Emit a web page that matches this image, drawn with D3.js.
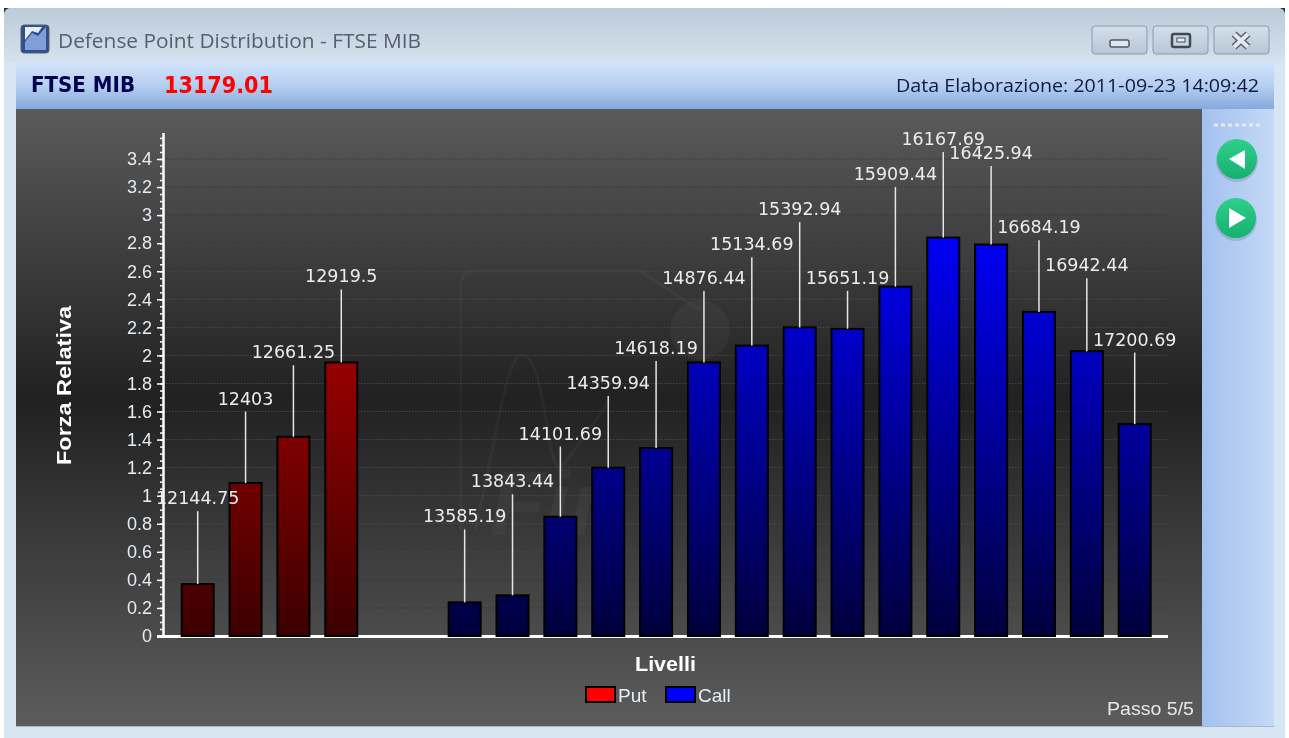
<!DOCTYPE html>
<html>
<head>
<meta charset="utf-8">
<script src="https://cdn.jsdelivr.net/npm/d3@7"></script>
<style>
html,body{margin:0;padding:0;background:#fff;overflow:hidden}
svg{display:block;filter:blur(0.45px)}
</style>
</head>
<body>
<svg id="svg1" width="1289" height="738"></svg>
<script>
var putLevels = [12144.75,12403,12661.25,12919.5];
var putValues = [0.37,1.09,1.42,1.95];
var putLabelTops = [0.89,1.60,1.93,2.47];
var callLevels = [13585.19,13843.44,14101.69,14359.94,14618.19,14876.44,15134.69,15392.94,15651.19,15909.44,16167.69,16425.94,16684.19,16942.44,17200.69];
var callValues = [0.24,0.29,0.85,1.20,1.34,1.95,2.07,2.20,2.19,2.49,2.84,2.79,2.31,2.03,1.51];
var callLabelTops = [0.76,1.01,1.35,1.71,1.96,2.46,2.70,2.95,2.46,3.20,3.45,3.35,2.82,2.55,2.02];
var yTicks = [0,0.2,0.4,0.6,0.8,1,1.2,1.4,1.6,1.8,2,2.2,2.4,2.6,2.8,3,3.2,3.4];
var yMinorTicks = d3.range(0,3.56,0.05);
var legendNames = ['Put','Call'];
var legendColors = ['#ff0000','#0000ff'];

var svg1 = d3.select('#svg1');
var defs = svg1.append('defs');

function gradient(id, stops, attrs){
	var g = defs.append('linearGradient').attr('id', id);
	Object.keys(attrs).forEach(k => g.attr(k, attrs[k]));
	stops.forEach(s => g.append('stop').attr('offset', s[0]).attr('stop-color', s[1]));
}
var vert = {x1:0,y1:0,x2:0,y2:1}, horiz = {x1:0,y1:0,x2:1,y2:0};
gradient('titleGrad', [[0,'#bccbd9'],[1,'#d5e2ee']], vert);
gradient('headGrad', [[0,'#d2e3fa'],[0.5,'#b6cff0'],[1,'#85a9dc']], vert);
gradient('panelGrad', [[0,'#5a5a5a'],[0.47,'#212121'],[1,'#5c5c5c']], vert);
gradient('sideGrad', [[0,'#a3c0ef'],[1,'#c5d9f6']], horiz);
gradient('btnGrad', [[0,'#d3dfea'],[1,'#b7c6d5']], vert);
gradient('greenGrad', [[0,'#2fd08a'],[1,'#14b070']], vert);

// window chrome
svg1.append('path').attr('d','M4 8 h8 v8 h-8 Z M1277 8 h8 v8 h-8 Z').attr('fill','#333');
svg1.append('rect').attr('x',4).attr('y',8).attr('width',1281).attr('height',740).attr('rx',7).attr('fill','#d8e5f2');
svg1.append('rect').attr('x',4).attr('y',8).attr('width',1281).attr('height',55).attr('rx',7).attr('fill','url(#titleGrad)');
svg1.append('rect').attr('x',16).attr('y',62).attr('width',1258).attr('height',47).attr('fill','url(#headGrad)');
svg1.append('rect').attr('x',16).attr('y',109).attr('width',1186).attr('height',617).attr('fill','url(#panelGrad)');
svg1.append('rect').attr('x',1202).attr('y',109).attr('width',72).attr('height',617).attr('fill','url(#sideGrad)');
svg1.append('rect').attr('x',16).attr('y',726).attr('width',1258).attr('height',1).attr('fill','#a9b6c4');

// app icon
svg1.append('rect').attr('x',21).attr('y',25).attr('width',28).attr('height',28).attr('rx',3).attr('fill','#2f4f8f').attr('stroke','#55606e');
svg1.append('path').attr('d','M25 42 L32 33 L38 36 L46 27 L46 50 L25 50 Z').attr('fill','#7f9fd6');
svg1.append('path').attr('d','M25 27 L42 27 L38 33 L32 31 L25 40 Z').attr('fill','#e8eef5');

svg1.append('text').attr('x',58).attr('y',48).attr('font-family','Open Sans').attr('font-size',20.5).attr('fill','#565f6e')
	.attr('textLength',363).attr('lengthAdjust','spacingAndGlyphs').text('Defense Point Distribution - FTSE MIB');

// window buttons
[1092,1153,1214].forEach(x => {
	svg1.append('rect').attr('x',x).attr('y',26).attr('width',55).attr('height',28).attr('rx',3)
		.attr('fill','url(#btnGrad)').attr('stroke','#8a9bae');
});
svg1.append('rect').attr('x',1110).attr('y',40).attr('width',19).attr('height',7).attr('rx',2).attr('fill','#dfe6ee').attr('stroke','#4e5a68').attr('stroke-width',1.5);
svg1.append('rect').attr('x',1172).attr('y',34).attr('width',18).attr('height',13).attr('rx',2).attr('fill','#c9d5e0').attr('stroke','#3f4a58').attr('stroke-width',2.5);
svg1.append('rect').attr('x',1177).attr('y',38).attr('width',8).attr('height',4).attr('fill','#e8edf3').attr('stroke','#3f4a58').attr('stroke-width',1);
svg1.append('path').attr('d','M1234 34 L1248 47 M1248 34 L1234 47').attr('stroke','#55606e').attr('stroke-width',7);
svg1.append('path').attr('d','M1234 34 L1248 47 M1248 34 L1234 47').attr('stroke','#e3e9f0').attr('stroke-width',4);

// header strip
svg1.append('text').attr('x',31).attr('y',92).attr('font-family','DejaVu Sans').attr('font-weight','bold').attr('font-size',21.5)
	.attr('fill','#000050').attr('textLength',104).attr('lengthAdjust','spacingAndGlyphs').text('FTSE MIB');
svg1.append('text').attr('x',164).attr('y',92.5).attr('font-family','DejaVu Sans').attr('font-weight','bold').attr('font-size',22.5)
	.attr('fill','#ff0000').attr('textLength',109).attr('lengthAdjust','spacingAndGlyphs').text('13179.01');
svg1.append('text').attr('x',1259).attr('y',92).attr('text-anchor','end').attr('font-family','Open Sans').attr('font-size',19)
	.attr('fill','#0a1a44').attr('textLength',363).attr('lengthAdjust','spacingAndGlyphs').text('Data Elaborazione: 2011-09-23 14:09:42');

// faint watermark behind the chart
var wm = svg1.append('g').attr('fill','none').attr('stroke','#ffffff').attr('stroke-opacity',0.035).attr('stroke-width',3);
wm.append('path').attr('d','M461 530 L461 285 Q461 271 475 271 L640 271 L700 310');
wm.append('path').attr('d','M475 530 C495 450 505 355 522 355 C545 355 545 460 560 470 L610 400');
wm.append('circle').attr('cx',700).attr('cy',330).attr('r',30).attr('fill','#ffffff').attr('fill-opacity',0.035).attr('stroke','none');
svg1.append('text').attr('x',490).attr('y',535).attr('font-family','Liberation Sans').attr('font-weight','bold').attr('font-style','italic')
	.attr('font-size',90).attr('fill','#ffffff').attr('fill-opacity',0.035).text('Fin');

// scales
var x_scale = d3.scaleLinear().domain([12144.75,17200.69]).range([197.7,1134.7]);
var y_scale = d3.scaleLinear().domain([0,3.4]).range([636,159]);
var bar_w = 32;

// grid
svg1.append('g').selectAll('line').data(yTicks.slice(1)).enter().append('line')
	.attr('x1',163).attr('x2',1168).attr('y1', d => y_scale(d)).attr('y2', d => y_scale(d))
	.attr('stroke', d => y_scale(d) > 250 && y_scale(d) < 560 ? '#4a4a4a' : '#383838')
	.attr('stroke-width',1).attr('stroke-dasharray','1.5 1.5');

// x axis line sits under the bar feet
svg1.append('line').attr('x1',157).attr('x2',1168).attr('y1',y_scale(0)+0.5).attr('y2',y_scale(0)+0.5).attr('stroke','#fff').attr('stroke-width',3);

// bar fills follow the plot height, not the height of each bar
gradient('putGrad', [[0,'#c80000'],[1,'#3c0000']], {gradientUnits:'userSpaceOnUse',x1:0,x2:0,y1:y_scale(3.0),y2:y_scale(0)});
gradient('callGrad', [[0,'#0000ff'],[1,'#00003c']], {gradientUnits:'userSpaceOnUse',x1:0,x2:0,y1:y_scale(3.0),y2:y_scale(0)});

function drawSeries(levels, values, tops, fillId){
	var rows = levels.map((l,i) => ({level:l, value:values[i], top:tops[i]}));
	var g = svg1.append('g');
	g.selectAll('rect').data(rows).enter().append('rect')
		.attr('x', d => x_scale(d.level)-bar_w/2).attr('width', bar_w)
		.attr('y', d => y_scale(d.value)).attr('height', d => y_scale(0)-y_scale(d.value))
		.attr('fill', 'url(#'+fillId+')').attr('stroke','#000').attr('stroke-width',2);
	return rows;
}
var putRows = drawSeries(putLevels, putValues, putLabelTops, 'putGrad');
var callRows = drawSeries(callLevels, callValues, callLabelTops, 'callGrad');

// axes
var yMinor = d3.axisLeft(y_scale).tickValues(yMinorTicks).tickSize(3).tickFormat('');
svg1.append('g').attr('transform','translate(163,0)').call(yMinor)
	.call(g => g.select('.domain').remove())
	.selectAll('line').attr('stroke','#fff').attr('stroke-width',1.5);
var yAxis = d3.axisLeft(y_scale).tickValues(yTicks).tickSize(6).tickPadding(5).tickFormat(d => d3.format('~g')(d));
var yG = svg1.append('g').attr('transform','translate(163,0)').call(yAxis);
yG.select('.domain').remove();
yG.selectAll('line').attr('stroke','#fff').attr('stroke-width',1.5);
yG.selectAll('text').attr('fill','#e4ecf4').attr('font-family','Liberation Sans').attr('font-size',18);
svg1.append('line').attr('x1',163.5).attr('x2',163.5).attr('y1',y_scale(3.585)).attr('y2',y_scale(0)+1.5).attr('stroke','#fff').attr('stroke-width',2.5);

// leader lines and labels
var labels = svg1.append('g');
var labelRows = putRows.concat(callRows);
labels.selectAll('line').data(labelRows).enter().append('line')
	.attr('x1', d => x_scale(d.level)).attr('x2', d => x_scale(d.level))
	.attr('y1', d => y_scale(d.top)).attr('y2', d => y_scale(d.value))
	.attr('stroke','#e6e6e6').attr('stroke-width',1.5);
labels.selectAll('text').data(labelRows).enter().append('text')
	.attr('x', d => x_scale(d.level)).attr('y', d => y_scale(d.top)-7)
	.attr('text-anchor','middle').attr('font-family','DejaVu Sans').attr('font-size',17.5)
	.attr('fill','#ececec').text(d => d.level);

// axis titles
svg1.append('text').attr('transform','translate(71,385.5) rotate(-90)').attr('text-anchor','middle')
	.attr('font-family','Liberation Sans').attr('font-weight','bold').attr('font-size',21).attr('fill','#fff')
	.attr('textLength',159).attr('lengthAdjust','spacingAndGlyphs').text('Forza Relativa');
svg1.append('text').attr('x',665.5).attr('y',671).attr('text-anchor','middle')
	.attr('font-family','Liberation Sans').attr('font-weight','bold').attr('font-size',21).attr('fill','#fff')
	.attr('textLength',61).attr('lengthAdjust','spacingAndGlyphs').text('Livelli');

// legend
var legend_x = d3.scaleOrdinal().domain(legendNames).range([586,666]);
var legend = svg1.append('g').selectAll('g').data(legendNames).enter().append('g')
	.attr('transform', d => 'translate('+legend_x(d)+',687)');
legend.append('rect').attr('width',29).attr('height',15).attr('stroke','#000').attr('stroke-width',2)
	.attr('fill', (d,i) => legendColors[i]);
legend.append('text').attr('x',32).attr('y',15).attr('font-family','Liberation Sans').attr('font-size',19)
	.attr('fill','#e8eef5').text(d => d);

svg1.append('text').attr('x',1194).attr('y',715).attr('text-anchor','end').attr('font-family','Liberation Sans').attr('font-size',19)
	.attr('fill','#e6e6e6').attr('textLength',87).attr('lengthAdjust','spacingAndGlyphs').text('Passo 5/5');

// side panel controls
svg1.append('line').attr('x1',1214).attr('x2',1263).attr('y1',125).attr('y2',125).attr('stroke','#e4eaf2').attr('stroke-width',3).attr('stroke-dasharray','4 3');
[[1237,159,'M1229 159 L1245 150 L1245 169 Z'],[1236,218,'M1229 208 L1246 218 L1229 228 Z']].forEach(b => {
	svg1.append('circle').attr('cx',b[0]).attr('cy',b[1]+2).attr('r',21).attr('fill','#000').attr('fill-opacity',0.12);
	svg1.append('circle').attr('cx',b[0]).attr('cy',b[1]).attr('r',20).attr('fill','url(#greenGrad)');
	svg1.append('path').attr('d',b[2]).attr('fill','#fff');
});
</script>
</body>
</html>
